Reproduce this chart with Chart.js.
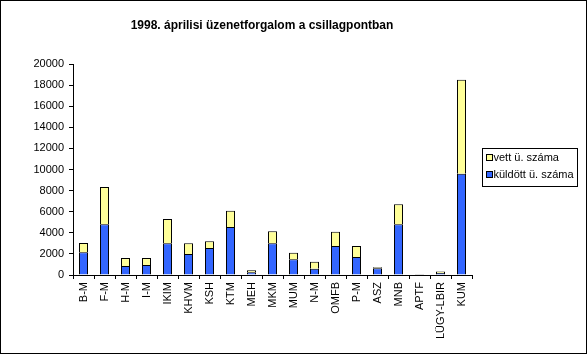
<!DOCTYPE html>
<html>
<head>
<meta charset="utf-8">
<script src="https://cdn.jsdelivr.net/npm/chart.js@4/dist/chart.umd.min.js"></script>
<style>
html,body{margin:0;padding:0;background:#fff;}
canvas{display:block;}
</style>
</head>
<body>
<canvas id="c" width="587" height="354"></canvas>
<script>
const categories = ['B-M','F-M','H-M','I-M','IKIM','KHVM','KSH','KTM','MEH','MKM','MUM','N-M','OMFB','P-M','ASZ','MNB','APTF','LÜGY-LBIR','KUM'];
const kuldott = [2150, 4800, 850, 950, 3000, 2000, 2550, 4550, 250, 3000, 1500, 600, 2750, 1700, 650, 4800, 60, 200, 9600];
const vett = [880, 3550, 750, 650, 2300, 1000, 650, 1550, 200, 1150, 600, 650, 1350, 1050, 80, 1900, 40, 120, 8900];
const yTicks = [0, 2000, 4000, 6000, 8000, 10000, 12000, 14000, 16000, 18000, 20000];
const seriesNames = ['küldött ü. száma', 'vett ü. száma'];
const titleText = '1998. áprilisi üzenetforgalom a csillagpontban';

const FONT = '"Liberation Sans", Arial, sans-serif';
const BLUE = '#3366FF';
const YELLOW = '#FFFF99';

const decor = {
  id: 'decor',
  afterDraw(chart) {
    const ctx = chart.ctx;
    ctx.save();
    ctx.strokeStyle = '#000';
    ctx.lineWidth = 1;
    ctx.strokeRect(0.5, 0.5, chart.width - 1, chart.height - 1);
    ctx.fillStyle = '#000';
    ctx.font = 'bold 12px ' + FONT;
    ctx.textAlign = 'center';
    ctx.textBaseline = 'alphabetic';
    ctx.fillText(titleText, 262, 29);
    const lx = 482.5, ly = 148.5, lw = 95, lh = 38;
    ctx.strokeRect(lx, ly, lw, lh);
    ctx.font = '11px ' + FONT;
    ctx.textAlign = 'left';
    ctx.textBaseline = 'middle';
    const entries = [[seriesNames[1], YELLOW], [seriesNames[0], BLUE]];
    entries.forEach((e, i) => {
      const cy = 157.5 + i * 17;
      ctx.fillStyle = e[1];
      ctx.fillRect(lx + 4, cy - 3, 6, 6);
      ctx.strokeRect(lx + 4, cy - 3, 6, 6);
      ctx.fillStyle = '#000';
      ctx.fillText(e[0], lx + 11, cy + 0.5);
    });
    ctx.restore();
  }
};

new Chart(document.getElementById('c'), {
  type: 'bar',
  data: {
    labels: categories,
    datasets: [
      { label: seriesNames[0], data: kuldott, backgroundColor: BLUE, borderColor: '#000', borderWidth: 1, stack: 's', barPercentage: 0.43, categoryPercentage: 1 },
      { label: seriesNames[1], data: vett, backgroundColor: YELLOW, borderColor: '#000', borderWidth: 1, stack: 's', barPercentage: 0.43, categoryPercentage: 1 }
    ]
  },
  options: {
    responsive: false,
    animation: false,
    devicePixelRatio: 1,
    layout: { padding: { top: 64, right: 115, left: 0, bottom: 0 } },
    plugins: { legend: { display: false }, title: { display: false }, tooltip: { enabled: false } },
    scales: {
      x: {
        stacked: true,
        offset: true,
        grid: { display: true, drawOnChartArea: false, offset: true, color: '#000', tickLength: 4, tickColor: '#000' },
        border: { display: true, color: '#000', width: 1 },
        ticks: { autoSkip: false, minRotation: 90, maxRotation: 90, padding: 3, color: '#000', font: { family: FONT, size: 11 } },
        afterFit(scale) { scale.height = 79; }
      },
      y: {
        stacked: true,
        min: 0,
        max: 20000,
        afterBuildTicks(scale) { scale.ticks = yTicks.map(v => ({ value: v })); },
        grid: { display: true, drawOnChartArea: false, color: '#000', tickLength: 4, tickColor: '#000' },
        border: { display: true, color: '#000', width: 1 },
        ticks: { padding: 5, color: '#000', font: { family: FONT, size: 11 }, callback: v => String(v) },
        afterFit(scale) { scale.width = 73; }
      }
    }
  },
  plugins: [decor]
});
</script>
</body>
</html>
